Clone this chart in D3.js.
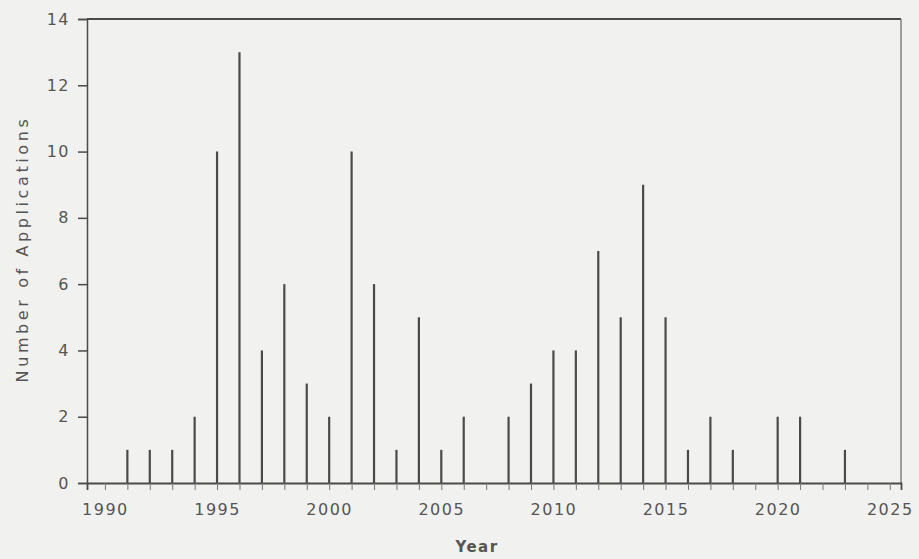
<!DOCTYPE html>
<html><head><meta charset="utf-8">
<script src="https://cdn.jsdelivr.net/npm/d3@7/dist/d3.min.js"></script>
<style>
html,body{margin:0;padding:0;background:#f1f1f0;}
svg{display:block;}
text{font-family:"DejaVu Sans",sans-serif;fill:#555;}
</style></head><body>
<svg id="c" width="919" height="559"></svg>
<script>
const years = [1991,1992,1993,1994,1995,1996,1997,1998,1999,2000,2001,2002,2003,2004,2005,2006,2007,2008,2009,2010,2011,2012,2013,2014,2015,2016,2017,2018,2019,2020,2021,2022,2023];
const applications = [1,1,1,2,10,13,4,6,3,2,10,6,1,5,1,2,0,2,3,4,4,7,5,9,5,1,2,1,0,2,2,0,1];
const xTickLabels = [1990,1995,2000,2005,2010,2015,2020,2025];
const yTicks = [0,2,4,6,8,10,12,14];
const xTitle = "Year";
const yTitle = "Number of Applications";

const svg = d3.select("#c");
const L = 87, R = 901, T = 19, B = 483;
const x = d3.scaleLinear().domain([1989.2, 2025.5]).range([L, R]);
const y = d3.scaleLinear().domain([0, 14]).range([B, T]);
const ink = "#4a4a4a";

// frame: top and right
svg.append("line").attr("x1", L).attr("x2", R).attr("y1", y(14)).attr("y2", y(14))
  .attr("stroke", ink).attr("stroke-width", 1.8);
svg.append("line").attr("x1", R).attr("x2", R).attr("y1", y(14)).attr("y2", B)
  .attr("stroke", "#666").attr("stroke-width", 1.2);

// y axis
const yAx = svg.append("g").attr("transform", `translate(${L},0)`)
  .call(d3.axisLeft(y).tickValues(yTicks).tickSize(9).tickPadding(8).tickFormat(d3.format("d")));
yAx.select(".domain").attr("stroke", ink).attr("stroke-width", 1.5);
yAx.selectAll(".tick line").attr("stroke", ink).attr("stroke-width", 1.5);
yAx.selectAll(".tick text").style("font-size", "16px").style("letter-spacing", "1.5px").attr("fill", "#505050");

// x axis
const allYears = d3.range(1990, 2026);
const xAx = svg.append("g").attr("transform", `translate(0,${B})`)
  .call(d3.axisBottom(x).tickValues(allYears).tickSize(7).tickPadding(14)
    .tickFormat(d => xTickLabels.includes(d) ? String(d) : ""));
xAx.select(".domain").attr("stroke", ink).attr("stroke-width", 1.8);
xAx.selectAll(".tick line").attr("stroke", "#777").attr("stroke-width", 1);
xAx.selectAll(".tick text").style("font-size", "16px").style("letter-spacing", "1.5px").attr("fill", "#505050");

// bars (thin lines)
svg.append("g").selectAll("line").data(years.map((yr, i) => ({yr, v: applications[i]})).filter(d => d.v > 0))
  .join("line")
  .attr("x1", d => x(d.yr)).attr("x2", d => x(d.yr))
  .attr("y1", y(0)).attr("y2", d => y(d.v))
  .attr("stroke", ink).attr("stroke-width", 2.2);

// titles
svg.append("text").attr("x", 477).attr("y", 552).attr("text-anchor", "middle")
  .style("font-size", "15px").style("font-weight", "bold").style("letter-spacing", "1.5px").attr("fill", "#505050").text(xTitle);
svg.append("text").attr("transform", "translate(28,249) rotate(-90)").attr("text-anchor", "middle")
  .style("font-size", "16px").style("letter-spacing", "3.6px").attr("fill", "#505050").text(yTitle);
</script>
</body></html>
